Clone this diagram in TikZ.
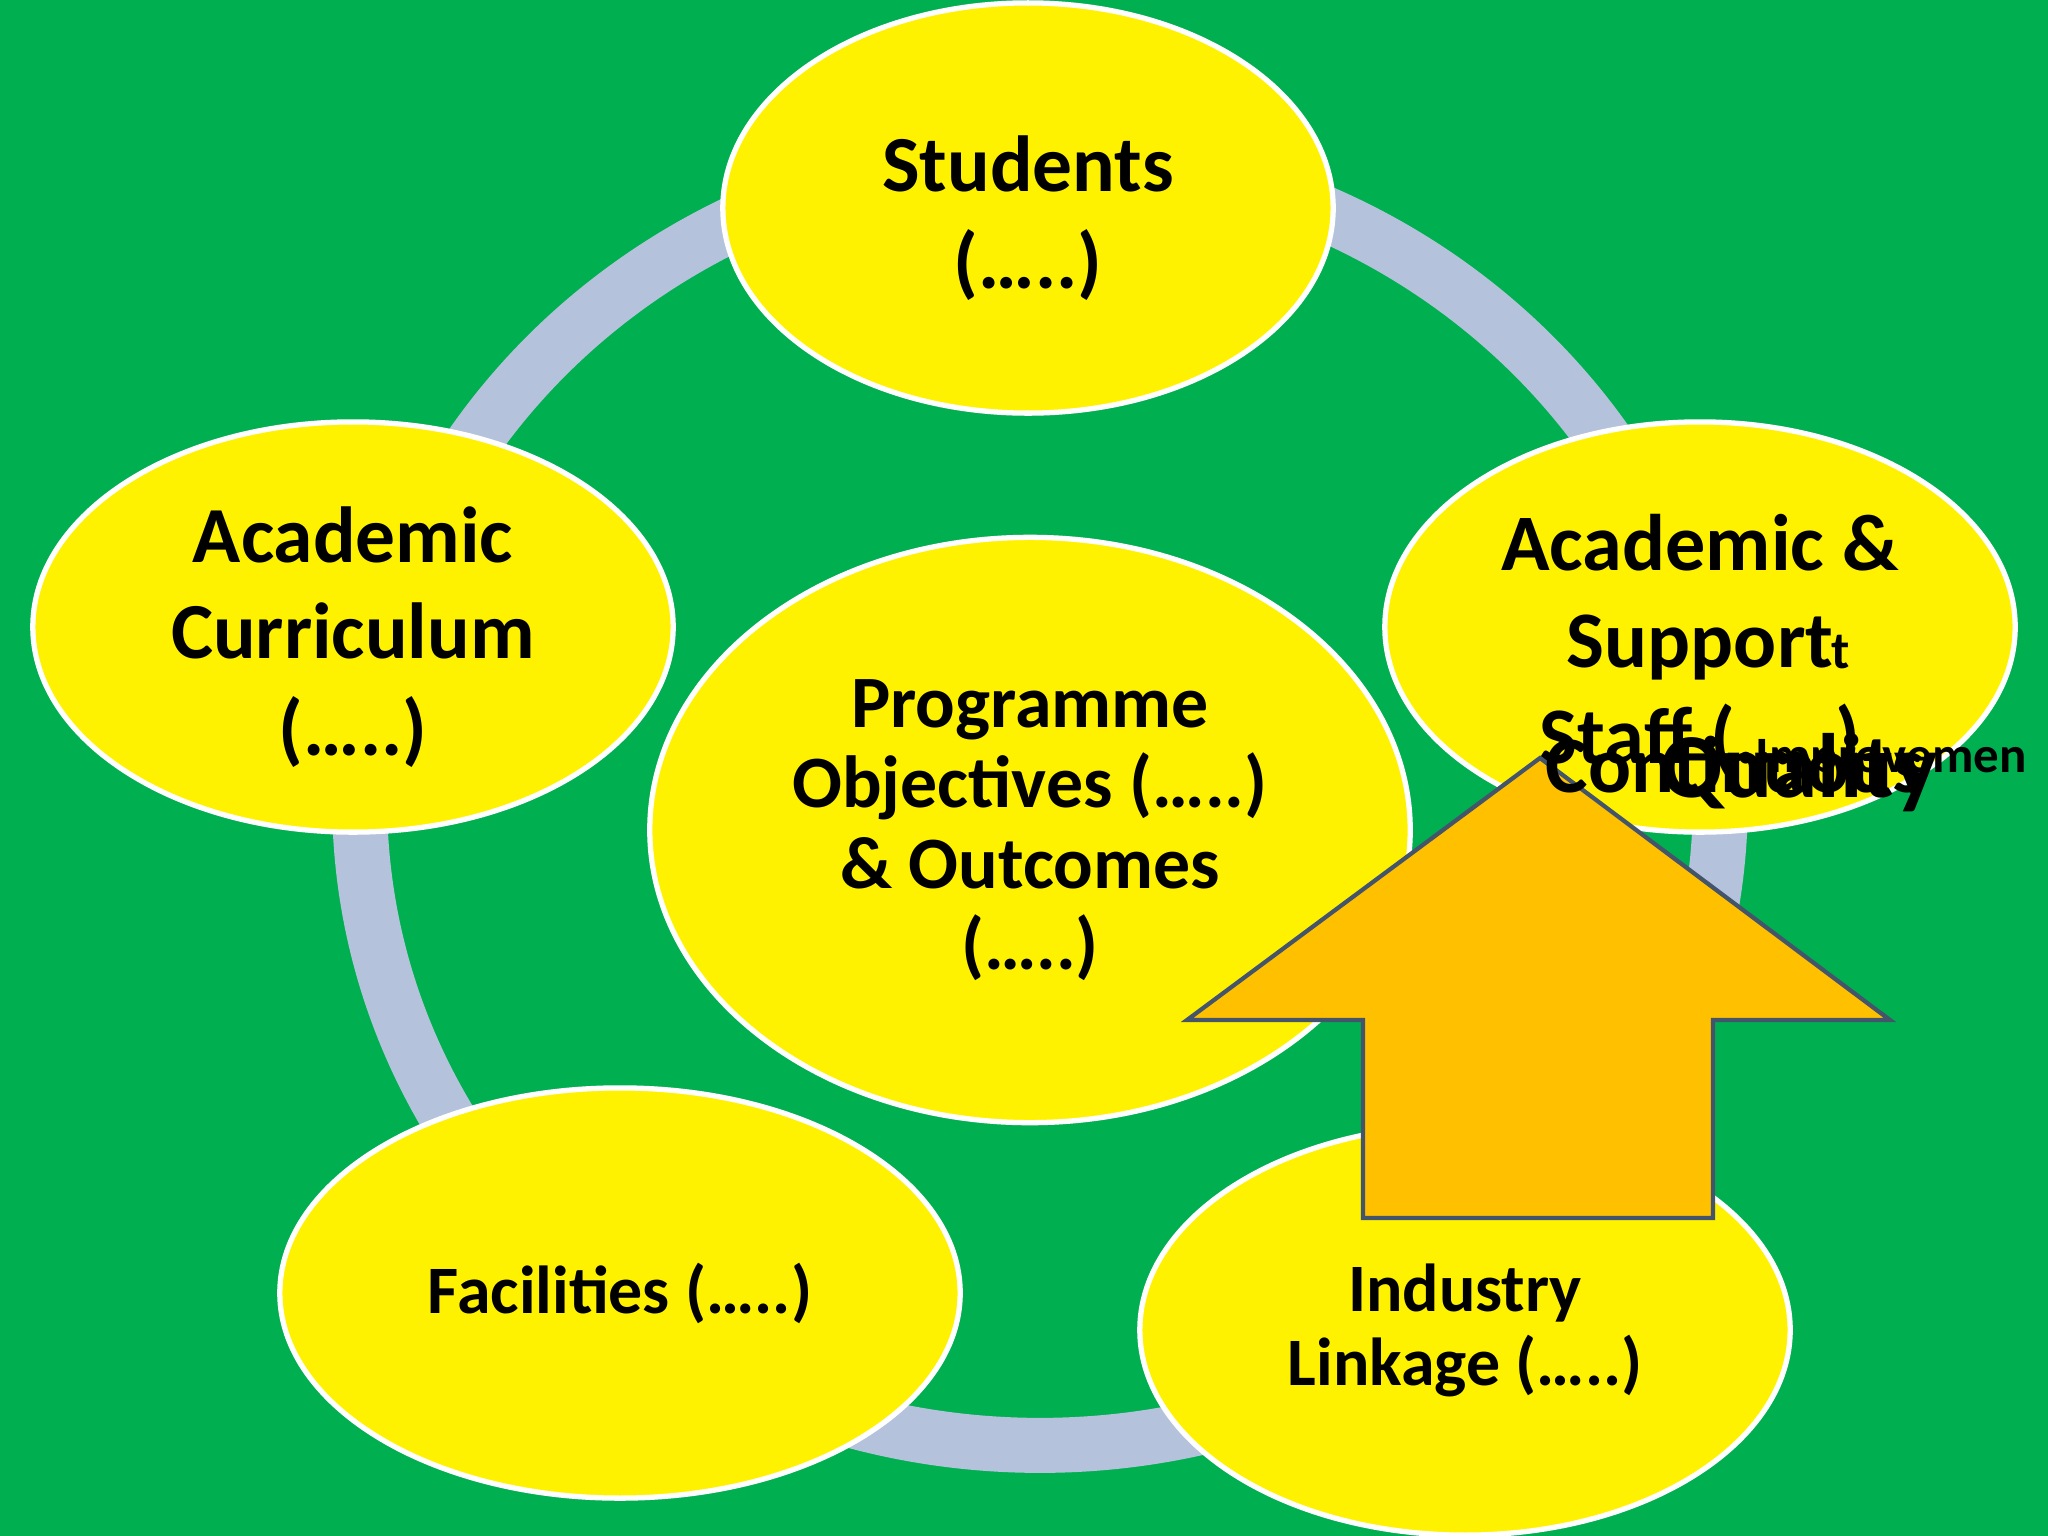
\documentclass[tikz,border=0pt]{standalone}
\usepackage{fontspec}
\setmainfont{Carlito}
\definecolor{bggreen}{HTML}{00B050}
\definecolor{ringblue}{HTML}{B4C2DC}
\definecolor{arrowfill}{HTML}{FFC000}
\definecolor{arrowline}{HTML}{44546A}
\tikzset{
  blob/.style={ellipse,fill=yellow,draw=white,line width=1.5pt,align=center,
    font=\bfseries\fontsize{22.6}{27.4}\selectfont},
}
\usetikzlibrary{shapes.geometric}
\begin{document}
\begin{tikzpicture}[x=0.01cm,y=-0.01cm]
  \fill[bggreen] (0,0) rectangle (2048,1536);
  \useasboundingbox (0,0) rectangle (2048,1536);
  % ring behind the bubbles
  \draw[ringblue,line width=0.55cm] (1040,800) ellipse [x radius=6.8cm,y radius=6.45cm];
  \node (stu) [blob,minimum width=6.1cm,minimum height=4.1cm] at (1028,208) {};
  \node (stut) [font=\bfseries\fontsize{22.6}{27.4}\selectfont,align=center] at (1028,218) {Students\\(…..)};
  \node (cur) [blob,minimum width=6.4cm,minimum height=4.1cm] at (353,627) {};
  \node (curt) [font=\bfseries\fontsize{22.6}{27.4}\selectfont,align=center] at (353,637) {Academic\\Curriculum\\(…..)};
  \node (stf) [blob,minimum width=6.3cm,minimum height=4.1cm] at (1700,627) {};
  \node (fac) [blob,minimum width=6.8cm,minimum height=4.1cm,font=\bfseries\fontsize{19.3}{23}\selectfont] at (620,1293) {Facilities (…..)};
  \node (ind) [blob,minimum width=6.5cm,minimum height=4.1cm,font=\bfseries\fontsize{19.3}{21}\selectfont] at (1465,1330) {Industry\\Linkage (…..)};
  \node (prg) [blob,minimum width=7.6cm,minimum height=5.85cm,font=\bfseries\fontsize{21}{23}\selectfont] at (1030,830) {Programme\\Objectives (…..)\\\& Outcomes\\(…..)};
  \node (stft) [font=\bfseries\fontsize{22.8}{27.5}\selectfont,align=center] at (1700,645) {Academic \&\\Support\\Staff (…..)};
  \node (tt) [font=\bfseries\fontsize{15}{17}\selectfont] at (1841,652) {t};
  % arrow
  \draw[fill=arrowfill,draw=arrowline,line width=1.2pt]
    (1540,758) -- (1890,1020) -- (1713,1020) -- (1713,1218)
    -- (1363,1218) -- (1363,1020) -- (1187,1020) -- cycle;
  \node (con) [anchor=base west,inner sep=0,font=\bfseries\fontsize{22.8}{27}\selectfont] at (1545,792) {Continuous};
  \node (qua) [anchor=base west,inner sep=0,font=\bfseries\fontsize{26}{30}\selectfont] at (1660,797) {Quality};
  \node (imp) [anchor=base west,inner sep=0,font=\bfseries\fontsize{14.5}{17}\selectfont] at (1755,772) {Improvemen};
\end{tikzpicture}
\end{document}
